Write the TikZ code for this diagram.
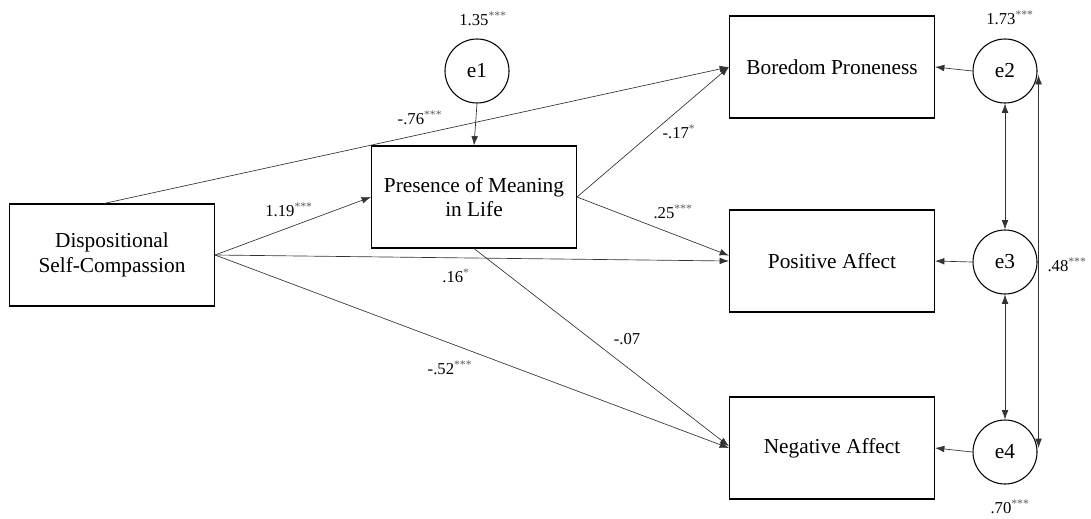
\documentclass[tikz,border=0pt]{standalone}
\usepackage{fontspec}
\setmainfont{Liberation Serif}
\usetikzlibrary{arrows.meta,calc}
\newcommand{\stars}[1]{\textsuperscript{\textcolor{black!65}{#1}}}
\begin{document}
\begin{tikzpicture}[x=0.75pt,y=-0.75pt,
  boxnode/.style={draw=black,line width=0.8pt,rectangle,minimum width=153.75pt,minimum height=76.5pt,align=center,font=\fontsize{16}{18.5}\selectfont,inner sep=0pt},
  errnode/.style={draw=black,line width=0.8pt,circle,minimum size=48pt,inner sep=0pt,font=\fontsize{16}{18.5}\selectfont},
  lbl/.style={font=\fontsize{12.5}{14}\selectfont,inner sep=1pt},
  path/.style={draw=black!80,line width=0.5pt,-{Latex[length=7pt,width=5pt]}},
  cov/.style={draw=black!80,line width=0.5pt,{Latex[length=7pt,width=5pt]}-{Latex[length=7pt,width=5pt]}}]
\useasboundingbox (0,0) rectangle (1091,518);
\node[boxnode] (dsc) at (112,255) {Dispositional\\Self-Compassion};
\node[boxnode] (pml) at (474,197) {Presence of Meaning\\in Life};
\node[boxnode] (bp) at (832,67) {Boredom Proneness};
\node[boxnode] (pa) at (832,261) {Positive Affect};
\node[boxnode] (na) at (832,448) {Negative Affect};
\node[errnode] (e1) at (477,71) {e1};
\node[errnode] (e2) at (1005,71) {e2};
\node[errnode] (e3) at (1005,262) {e3};
\node[errnode] (e4) at (1005,452) {e4};
\node[lbl] (l135) at (483,19) {1.35\stars{***}};
\node[lbl] (l173) at (1010,18) {1.73\stars{***}};
\node[lbl] (l70) at (1010,507) {.70\stars{***}};
\node[lbl] (l48) at (1067,265) {.48\stars{***}};
\node[lbl] (l76) at (420,118) {-.76\stars{***}};
\node[lbl] (l119) at (289,210) {1.19\stars{***}};
\node[lbl] (l16) at (456,276) {.16\stars{*}};
\node[lbl] (l52) at (450,368) {-.52\stars{***}};
\node[lbl] (l07) at (627,339) {-.07};
\node[lbl] (l17) at (679,132) {-.17\stars{*}};
\node[lbl] (l25) at (673,212) {.25\stars{***}};
\coordinate (dsctop) at ($(dsc.north)+(-8,0)$);
\draw[path] (dsctop) -- (bp.west);
\draw[path] (dsc.east) -- (pml.west);
\draw[path] (dsc.east) -- (pa.west);
\draw[path] (dsc.east) -- (na.west);
\draw[path] (pml.east) -- (bp.west);
\draw[path] (pml.east) -- (pa.177);
\draw[path] (pml.south) -- (na.179);
\draw[path] (e1.south) -- (pml.north);
\draw[path] (e2.west) -- (bp.east);
\draw[path] (e3.west) -- (pa.east);
\draw[path] (e4.west) -- (na.east);
\draw[cov] (e2.south) -- (e3.north);
\draw[cov] (e3.south) -- (e4.north);
\draw[cov] ($(e2.east)+(1,4)$) -- ($(e4.east)+(1,-4)$);
\end{tikzpicture}
\end{document}
